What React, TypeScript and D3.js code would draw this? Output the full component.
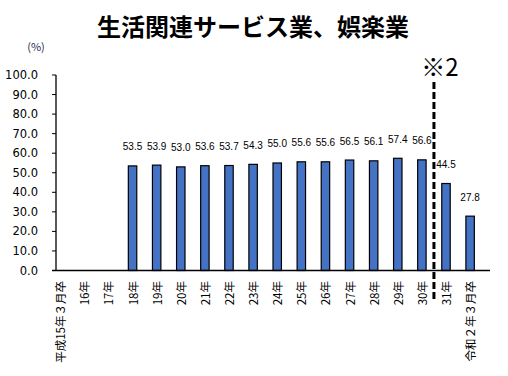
import React from "react";
import * as d3 from "d3";

const categories = [
  "平成15年３月卒", "16年", "17年", "18年", "19年", "20年", "21年", "22年", "23年",
  "24年", "25年", "26年", "27年", "28年", "29年", "30年", "31年", "令和２年３月卒",
];
const values: (number | null)[] = [
  null, null, null, 53.5, 53.9, 53.0, 53.6, 53.7, 54.3, 55.0, 55.6, 55.6, 56.5, 56.1, 57.4, 56.6, 44.5, 27.8,
];
const yTicks = [0, 10, 20, 30, 40, 50, 60, 70, 80, 90, 100];
const title = "生活関連サービス業、娯楽業";
const unitLabel = "(%)";
const noteLabel = "※2";

const W = 508;
const H = 376;

export default function App() {
  const x = d3.scaleBand<string>().domain(categories).range([56, 490]).padding(0);
  const y = d3.scaleLinear().domain([0, 100]).range([270.5, 75]);
  const bw = x.bandwidth() * 0.35;
  const center = (c: string) => (x(c) as number) + bw / 2;
  const sepX = (center("30年") + center("31年")) / 2;
  const cjk = "'Noto Sans CJK JP', sans-serif";
  const num = "'DejaVu Sans', Verdana, sans-serif";

  return (
    <svg width={W} height={H} style={{ position: "absolute", left: 0, top: 0, background: "#fff" }}>
      <text x={253} y={25} textAnchor="middle" dominantBaseline="central" fontFamily={cjk} fontWeight={700} fontSize={24} fill="#000">
        {title}
      </text>
      <text x={36} y={46} textAnchor="middle" dominantBaseline="central" fontFamily={cjk} fontSize={11} fill="#1f2a55">
        {unitLabel}
      </text>
      {yTicks.map((t) => (
        <g key={t}>
          <line x1={52} x2={56} y1={y(t)} y2={y(t)} stroke="#000" strokeWidth={1} />
          <text x={38} y={y(t)} textAnchor="end" dominantBaseline="central" fontFamily={num} fontSize={11.5} fill="#000">
            {t.toFixed(1)}
          </text>
        </g>
      ))}
      {categories.map((c, i) => {
        const v = values[i];
        if (v == null) return null;
        return (
          <g key={c}>
            <rect x={x(c)} y={y(v)} width={bw} height={y(0) - y(v)} fill="#4472C4" stroke="#000" strokeWidth={1.2} />
            <text x={center(c)} y={y(v) - 19} textAnchor="middle" dominantBaseline="central" fontFamily="'Liberation Sans', Arial, sans-serif" fontSize={10} fill="#000">
              {v.toFixed(1)}
            </text>
          </g>
        );
      })}
      <line x1={56} x2={56} y1={y(100)} y2={y(0)} stroke="#000" strokeWidth={1.3} />
      <line x1={52} x2={490} y1={y(0)} y2={y(0)} stroke="#000" strokeWidth={1.3} />
      {categories.map((c) => (
        <text
          key={"l" + c}
          transform={`translate(${center(c)},281) rotate(-90)`}
          textAnchor="end"
          dominantBaseline="central"
          fontFamily={cjk}
          fontSize={11.5}
          fill="#000"
        >
          {c}
        </text>
      ))}
      <line x1={sepX} x2={sepX} y1={82} y2={302} stroke="#000" strokeWidth={3} strokeDasharray="7,3" />
      <text x={440} y={65} textAnchor="middle" dominantBaseline="central" fontFamily={cjk} fontSize={24} fill="#000">
        {noteLabel}
      </text>
    </svg>
  );
}
